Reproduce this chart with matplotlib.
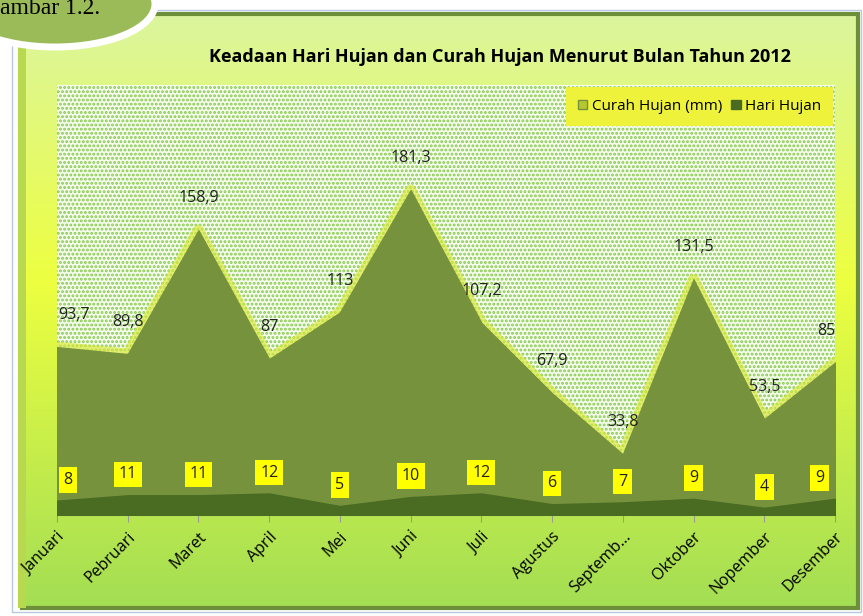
import numpy as np
import matplotlib
matplotlib.use("Agg")
import matplotlib.pyplot as plt
from matplotlib.patches import FancyBboxPatch, Ellipse, Rectangle

# data
bulan = ['Januari', 'Pebruari', 'Maret', 'April', 'Mei', 'Juni', 'Juli',
         'Agustus', 'Septemb...', 'Oktober', 'Nopember', 'Desember']
curah_hujan = [93.7, 89.8, 158.9, 87, 113, 181.3, 107.2, 67.9, 33.8, 131.5, 53.5, 85]
hari_hujan = [8, 11, 11, 12, 5, 10, 12, 6, 7, 9, 4, 9]

plt.rcParams['font.family'] = ['Open Sans', 'DejaVu Sans']
plt.rcParams['hatch.linewidth'] = 1.4
plt.rcParams['hatch.color'] = '#86c950'

fig = plt.figure(figsize=(8.63, 6.16), dpi=100)
fig.patch.set_facecolor('white')

# background frame with gradient
bg = fig.add_axes([0, 0, 1, 1])
bg.set_xlim(0, 863)
bg.set_ylim(616, 0)
bg.axis('off')
grad = np.linspace(0, 1, 256)
top = np.array([0.86, 0.96, 0.62])
mid = np.array([0.93, 1.0, 0.25])
bot = np.array([0.64, 0.87, 0.33])
cols = np.zeros((256, 1, 3))
for i, t in enumerate(grad):
    if t < 0.45:
        c = top + (mid - top) * t / 0.45
    else:
        c = mid + (bot - mid) * (t - 0.45) / 0.55
    cols[i, 0] = c
bg.add_patch(Rectangle((12, 10), 849, 602, facecolor='none', edgecolor='#b8c8e0',
                       linewidth=1, zorder=0))
frame = FancyBboxPatch((22, 14), 836, 594, boxstyle='square,pad=0',
                       facecolor='none', edgecolor='#6e8f3a', linewidth=3)
bg.add_patch(frame)
im = bg.imshow(cols, extent=(22, 858, 608, 14), aspect='auto', zorder=0)
im.set_clip_path(frame)
bg.add_patch(Rectangle((18, 14), 8, 594, facecolor='#b8d850', edgecolor='none', zorder=1))

# oval in top left corner
bg.add_patch(Ellipse((55, 4), 200, 86, facecolor='#9bbb59', edgecolor='white',
                     linewidth=5, zorder=3))
bg.text(0, 9, 'ambar 1.2.', fontsize=17, family='Liberation Serif',
        va='center', ha='left', zorder=4)

# main chart
ax = fig.add_axes([57 / 863, 101 / 616, 778 / 863, 430 / 616])
x = np.arange(len(bulan))
ax.set_xlim(0, len(bulan) - 1)
ax.set_ylim(0, 240)
ax.add_patch(Rectangle((0, 0), 1, 1, transform=ax.transAxes, facecolor='#f6fcec',
                       hatch='....', edgecolor='#86c950', linewidth=0, zorder=0))
ax.set_facecolor('none')

ax.plot(x, curah_hujan, color='#d8e834', linewidth=8, alpha=0.65, zorder=2)
ax.fill_between(x, curah_hujan, color='#76923c', zorder=3, label='Curah Hujan (mm)')
ax.fill_between(x, hari_hujan, color='#4a6b22', zorder=4, label='Hari Hujan')

for i, v in enumerate(curah_hujan):
    dx = 0
    if i == 0:
        dx = 12
    if i == len(curah_hujan) - 1:
        dx = -6
    ax.annotate(f'{v:g}'.replace('.', ','), (x[i], v), xytext=(dx, 23),
                textcoords='offset points', ha='center', va='center',
                fontsize=11.5, color='#222222', zorder=6)

for i, v in enumerate(hari_hujan):
    dx = 0
    if i == 0:
        dx = 8
    if i == len(hari_hujan) - 1:
        dx = -11
    ax.annotate(str(v), (x[i], v), xytext=(dx, 15), textcoords='offset points',
                ha='center', va='center', fontsize=11.5, color='#222222', zorder=6,
                bbox=dict(boxstyle='square,pad=0.3', facecolor='#ffff00', edgecolor='none'))

ax.set_xticks(x)
ax.set_xticklabels(bulan, rotation=45, ha='right', rotation_mode='anchor', fontsize=11.5)
ax.tick_params(axis='x', length=5, color='#999999', pad=5)
ax.set_yticks([])
for s in ['top', 'left', 'right']:
    ax.spines[s].set_visible(False)
ax.spines['bottom'].set_color('#999999')

leg = ax.legend(loc='upper right', ncol=2, fontsize=11, frameon=True, fancybox=False,
                handlelength=0.6, handleheight=0.6, handletextpad=0.3, columnspacing=0.6,
                borderaxespad=0.1, borderpad=0.8)
leg.get_frame().set_facecolor('#eef23a')
leg.get_frame().set_edgecolor('none')
leg.get_frame().set_alpha(1)
leg.legend_handles[0].set_facecolor('#b5c832')

fig.text(500 / 863, 1 - 57 / 616, 'Keadaan Hari Hujan dan Curah Hujan Menurut Bulan Tahun 2012',
         ha='center', va='center', fontsize=13, fontweight='bold')

fig.savefig('out.png', dpi=100)
